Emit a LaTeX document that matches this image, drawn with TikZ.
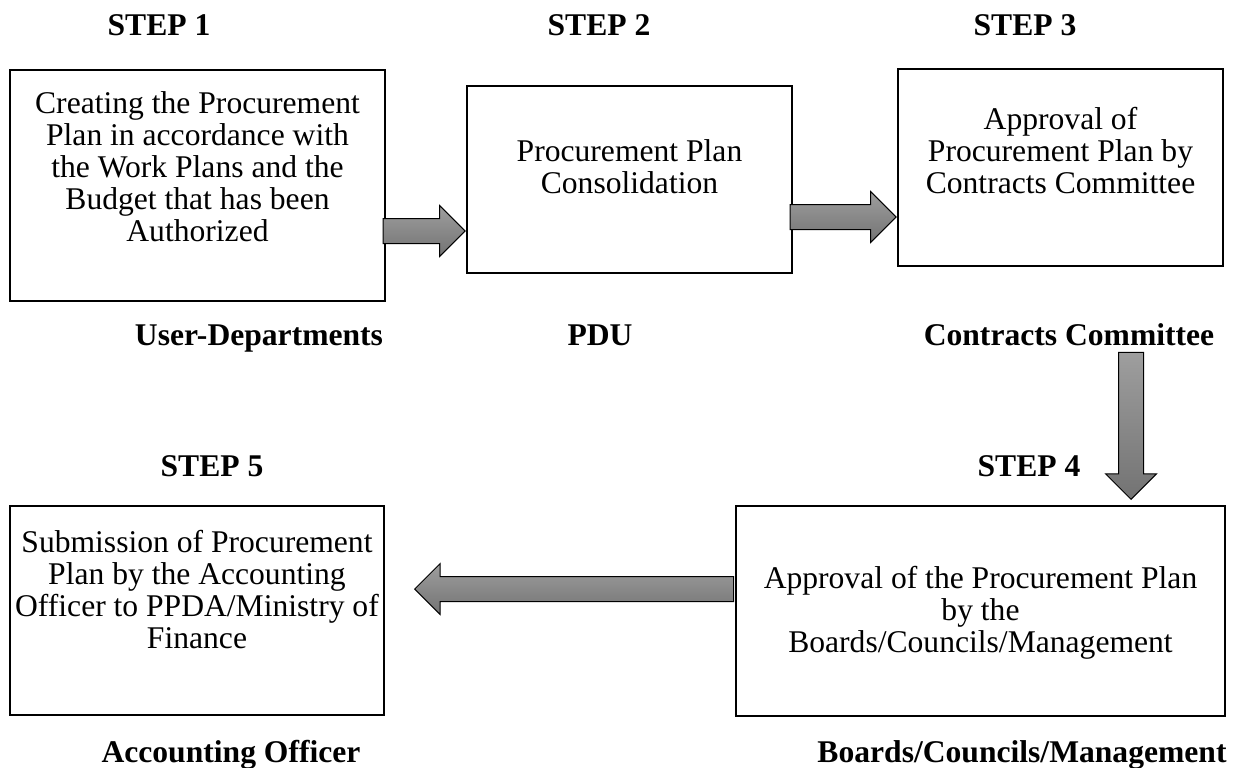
\documentclass[tikz,border=0pt]{standalone}
\usepackage{fontspec}
\setmainfont{Liberation Serif}
\usetikzlibrary{shapes.arrows}

\tikzset{
  box/.style={draw, line width=1.2pt, inner sep=0pt},
  boxtxt/.style={anchor=north, align=center, inner sep=0pt,
    font=\fontsize{15.8}{16}\selectfont},
  lbl/.style={anchor=base, inner sep=0pt,
    font=\fontsize{15.8}{16}\selectfont\bfseries},
  fatarrow/.style={single arrow, draw=black, line width=0.5pt,
    inner sep=6pt, anchor=tip,
    single arrow head extend=6.5pt, minimum width=25pt,
    top color=black!38, bottom color=black!55}
}

\begin{document}
\begin{tikzpicture}[x=0.5pt,y=-0.5pt]
\useasboundingbox (0,0) rectangle (1236,767);

% step labels
\node[lbl] (s1) at (159,35) {STEP 1};
\node[lbl] (s2) at (599,35) {STEP 2};
\node[lbl] (s3) at (1025,35) {STEP 3};
\node[lbl] (s5) at (212,476) {STEP 5};
\node[lbl] (s4) at (1029,476) {STEP 4};

% boxes
\node[box, minimum width=187.5pt, minimum height=115.5pt] (b1) at (197.5,185.5) {};
\node[box, minimum width=162.5pt, minimum height=93.5pt] (b2) at (629.5,179.5) {};
\node[box, minimum width=162.5pt, minimum height=98.5pt] (b3) at (1060.5,167.5) {};
\node[box, minimum width=244.5pt, minimum height=105pt] (b4) at (980.5,611) {};
\node[box, minimum width=187pt, minimum height=104.5pt] (b5) at (197,610.5) {};

\node[boxtxt] (t1) at (197.5,91) {Creating the Procurement\\Plan in accordance with\\the Work Plans and the\\Budget that has been\\Authorized};
\node[boxtxt] (t2) at (629.5,139) {Procurement Plan\\Consolidation};
\node[boxtxt] (t3) at (1060.5,107) {Approval of\\Procurement Plan by\\Contracts Committee};
\node[boxtxt] (t4) at (980.5,566) {Approval of the Procurement Plan\\by the\\Boards/Councils/Management};
\node[boxtxt] (t5) at (197,530) {Submission of Procurement\\Plan by the Accounting\\Officer to PPDA/Ministry of\\Finance};

% who does it
\node[lbl] (w1) at (259,345) {User-Departments};
\node[lbl] (w2) at (600,345) {PDU};
\node[lbl] (w3) at (1069,345) {Contracts Committee};
\node[lbl] (w5) at (231,762) {Accounting Officer};
\node[lbl] (w4) at (1022,762) {Boards/Councils/Management};

% arrows
\node[fatarrow, minimum height=41pt] (a1) at (b2.west |- 0,231) {};
\node[fatarrow, minimum height=53pt] (a2) at (b3.west |- 0,217) {};
\node[fatarrow, minimum height=73.5pt, shape border rotate=270] (a3) at (1131,500) {};
\node[fatarrow, minimum height=159.5pt, shape border rotate=180] (a4) at (414,589) {};

\end{tikzpicture}
\end{document}
